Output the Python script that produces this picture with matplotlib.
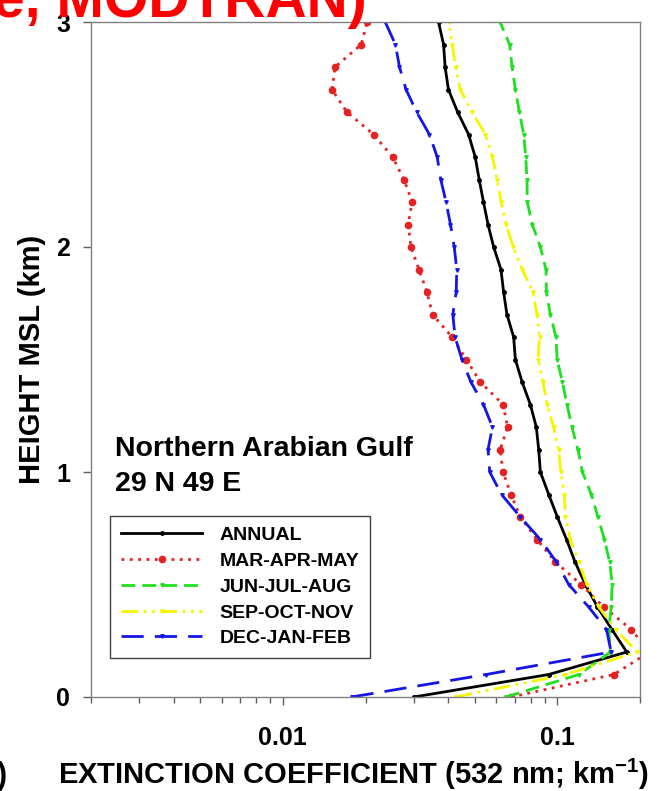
import matplotlib
matplotlib.use("Agg")
import matplotlib.pyplot as plt

plt.rcParams['font.family'] = ['Liberation Sans', 'DejaVu Sans']
plt.rcParams['font.weight'] = 'bold'
plt.rcParams['mathtext.fontset'] = 'custom'
plt.rcParams['mathtext.rm'] = 'Liberation Sans:bold'
plt.rcParams['mathtext.bf'] = 'Liberation Sans:bold'

# height above MSL (km), one profile point every 100 m
heights = [0.0, 0.1, 0.2, 0.3, 0.4, 0.5, 0.6, 0.7, 0.8, 0.9, 1.0,
           1.1, 1.2, 1.3, 1.4, 1.5, 1.6, 1.7, 1.8, 1.9, 2.0,
           2.1, 2.2, 2.3, 2.4, 2.5, 2.6, 2.7, 2.8, 2.9, 3.0]

# extinction coefficient (532 nm; km-1)
annual = [0.030, 0.093, 0.179, 0.158, 0.140, 0.1265, 0.116, 0.108, 0.100, 0.093, 0.0867,
          0.0855, 0.0838, 0.0797, 0.0744, 0.0703, 0.0693, 0.0655, 0.0637, 0.0623, 0.0586,
          0.0559, 0.0538, 0.0519, 0.0502, 0.0475, 0.0433, 0.0401, 0.0390, 0.0385, 0.0369]
mam = [0.0678, 0.1606, 0.2165, 0.186, 0.1475, 0.122, 0.0984, 0.0843, 0.0733, 0.0678, 0.0634,
       0.0619, 0.0659, 0.0634, 0.0524, 0.0466, 0.0413, 0.0351, 0.0335, 0.0313, 0.0293,
       0.0286, 0.0296, 0.0276, 0.0251, 0.0214, 0.0171, 0.0151, 0.0155, 0.0193, 0.0203]
jja = [0.0649, 0.120, 0.156, 0.154, 0.157, 0.1584, 0.155, 0.1484, 0.1405, 0.133, 0.1234,
       0.1188, 0.113, 0.1084, 0.1043, 0.0998, 0.0988, 0.0943, 0.0912, 0.0909, 0.0867,
       0.0810, 0.0777, 0.0775, 0.0767, 0.0754, 0.0727, 0.0703, 0.0684, 0.0670, 0.0618]
son = [0.0426, 0.107, 0.195, 0.163, 0.1416, 0.128, 0.1197, 0.1115, 0.107, 0.106, 0.103,
       0.101, 0.0969, 0.0917, 0.0887, 0.0851, 0.0861, 0.0843, 0.0814, 0.0746, 0.0690,
       0.0651, 0.0625, 0.0603, 0.0580, 0.0547, 0.0488, 0.0443, 0.0426, 0.0414, 0.0402]
djf = [0.0178, 0.055, 0.157, 0.151, 0.130, 0.110, 0.0992, 0.0867, 0.0733, 0.0626, 0.0567,
       0.0559, 0.0580, 0.0538, 0.0484, 0.0449, 0.0424, 0.0416, 0.0428, 0.0430, 0.0421,
       0.0408, 0.0393, 0.0376, 0.0365, 0.0342, 0.0307, 0.0281, 0.0266, 0.0257, 0.0236]

W, H = 660, 791
fig = plt.figure(figsize=(W / 100, H / 100), dpi=100)
ax = fig.add_axes([91 / W, (H - 697) / H, (640 - 91) / W, (697 - 22) / H])

ax.plot(annual, heights, color="black", lw=2, marker="o", ms=2.5, label="ANNUAL")
ax.plot(mam, heights, color="#e42222", lw=2, ls=(0, (1, 2)), marker="o", ms=4.5,
        label="MAR-APR-MAY")
ax.plot(jja, heights, color="#1ee01e", lw=2, ls=(0, (5, 2.5)), marker="v", ms=2.5,
        label="JUN-JUL-AUG")
ax.plot(son, heights, color="#f5f500", lw=2, ls=(0, (6, 2, 1, 2, 1, 2)), marker="v", ms=2.5,
        label="SEP-OCT-NOV")
ax.plot(djf, heights, color="#1515e8", lw=2, ls=(0, (8, 4)), marker="v", ms=2.5,
        label="DEC-JAN-FEB")

ax.set_xscale("log")
ax.set_xlim(0.002, 0.2)
ax.set_ylim(0, 3)
ax.set_yticks([0, 1, 2, 3])
ax.set_yticklabels(["0", "1", "2", "3"])
ax.set_xticks([0.01, 0.1])
ax.set_xticklabels(["0.01", "0.1"])

for s in ax.spines.values():
    s.set_color("#808080")
    s.set_linewidth(1)
ax.tick_params(axis="both", which="major", direction="out", length=6, width=1,
               color="#606060", labelsize=18)
ax.tick_params(axis="x", which="major", pad=15)
ax.tick_params(axis="y", which="major", pad=9)
ax.tick_params(axis="x", which="minor", direction="out", length=4, width=1, color="#606060")
ax.tick_params(top=False, right=False)

ax.text(0.0437, 0.357, "Northern Arabian Gulf", transform=ax.transAxes,
        fontsize=20.5, fontweight="bold", va="baseline", ha="left")
ax.text(0.0437, 0.305, "29 N 49 E", transform=ax.transAxes,
        fontsize=20.5, fontweight="bold", va="baseline", ha="left")

leg = ax.legend(loc="lower left", bbox_to_anchor=(0.0346, 0.0578), fontsize=14,
                frameon=True, fancybox=False, edgecolor="#404040", framealpha=1,
                handlelength=4.2, handletextpad=0.9, labelspacing=0.42,
                borderpad=0.55, borderaxespad=0, numpoints=1)
leg.get_frame().set_linewidth(1)

fig.text(32 / W, 1 - 359 / H, "HEIGHT MSL (km)", rotation=90, fontsize=21,
         fontweight="bold", ha="center", va="center")
fig.text(354 / W, 1 - 774 / H, r"EXTINCTION COEFFICIENT (532 nm; km$^{\mathregular{-1}}$)",
         fontsize=21, fontweight="bold", ha="center", va="center")

# cropped pieces of the surrounding slide
fig.text(367 / W, 1 - 17 / H, "e, MODTRAN)", color="#ff0000", fontsize=41,
         fontweight="bold", ha="right", va="baseline")
fig.text(7 / W, 1 - 776 / H, ")", fontsize=22, fontweight="bold", ha="right", va="center")

fig.savefig("out.png", dpi=100)
